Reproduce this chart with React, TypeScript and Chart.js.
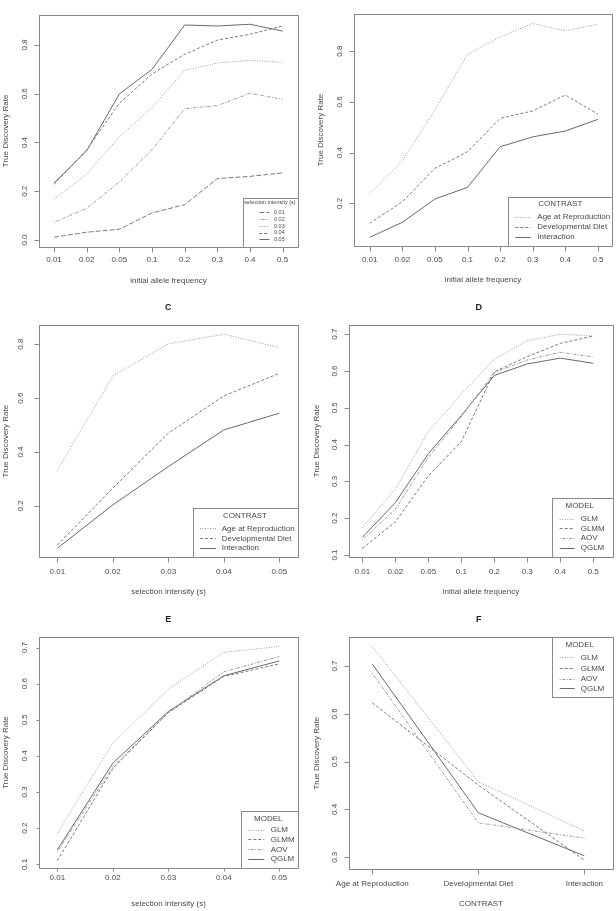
import React, { useEffect, useRef } from "react";
import { Chart, registerables } from "chart.js";

Chart.register(...registerables);

// ---------- data ----------
const FREQ_CATS = ["0.01", "0.02", "0.05", "0.1", "0.2", "0.3", "0.4", "0.5"];
const SEL_CATS = ["0.01", "0.02", "0.03", "0.04", "0.05"];
const CONTRAST_CATS = ["Age at Reproduction", "Developmental Diet", "Interaction"];

const SEL_NAMES = ["0.01", "0.02", "0.03", "0.04", "0.05"];
const CONTRAST_NAMES = ["Age at Reproduction", "Developmental Diet", "Interaction"];
const MODEL_NAMES = ["GLM", "GLMM", "AOV", "QGLM"];

// Panel A: TDR by initial allele frequency, per selection intensity
const A_S001 = [0.011, 0.032, 0.044, 0.111, 0.145, 0.252, 0.261, 0.275];
const A_S002 = [0.073, 0.13, 0.238, 0.37, 0.539, 0.551, 0.602, 0.577];
const A_S003 = [0.168, 0.27, 0.424, 0.544, 0.696, 0.726, 0.737, 0.729];
const A_S004 = [0.228, 0.37, 0.561, 0.681, 0.762, 0.82, 0.844, 0.878];
const A_S005 = [0.233, 0.366, 0.599, 0.7, 0.882, 0.878, 0.885, 0.857];

// Panel B: by initial allele frequency, per contrast
const B_AGE = [0.237, 0.367, 0.568, 0.787, 0.856, 0.909, 0.88, 0.906];
const B_DIET = [0.121, 0.206, 0.338, 0.403, 0.535, 0.564, 0.627, 0.551];
const B_INT = [0.066, 0.125, 0.217, 0.263, 0.423, 0.462, 0.485, 0.531];

// Panel C: by selection intensity, per contrast
const C_AGE = [0.331, 0.682, 0.801, 0.837, 0.787];
const C_DIET = [0.055, 0.266, 0.47, 0.608, 0.692];
const C_INT = [0.043, 0.204, 0.346, 0.482, 0.544];

// Panel D: by initial allele frequency, per model
const D_GLM = [0.174, 0.279, 0.435, 0.537, 0.632, 0.682, 0.7, 0.695];
const D_GLMM = [0.118, 0.19, 0.315, 0.408, 0.598, 0.639, 0.675, 0.695];
const D_AOV = [0.141, 0.224, 0.365, 0.476, 0.596, 0.63, 0.651, 0.638];
const D_QGLM = [0.148, 0.242, 0.375, 0.479, 0.588, 0.619, 0.635, 0.621];

// Panel E: by selection intensity, per model
const E_GLM = [0.186, 0.435, 0.585, 0.687, 0.703];
const E_GLMM = [0.11, 0.365, 0.52, 0.62, 0.655];
const E_AOV = [0.135, 0.37, 0.52, 0.633, 0.675];
const E_QGLM = [0.14, 0.38, 0.523, 0.622, 0.663];

// Panel F: by contrast, per model
const F_GLM = [0.741, 0.458, 0.355];
const F_GLMM = [0.623, 0.451, 0.294];
const F_AOV = [0.685, 0.372, 0.34];
const F_QGLM = [0.704, 0.393, 0.303];

// tick values
const Y_TICKS_A = [0, 0.2, 0.4, 0.6, 0.8];
const Y_TICKS_BC = [0.2, 0.4, 0.6, 0.8];
const Y_TICKS_DE = [0.1, 0.2, 0.3, 0.4, 0.5, 0.6, 0.7];
const Y_TICKS_F = [0.3, 0.4, 0.5, 0.6, 0.7];

// ---------- styles ----------
const BOX = "#8a8a8a";
const TEXT = "#4a4a4a";
const FONT = '"Liberation Sans", Arial, sans-serif';

const SOLID = { dash: [] as number[], color: "#6a6a6a" };
const DASHED = { dash: [3, 2], color: "#7a7a7a" };
const DOTTED = { dash: [1, 1.5], color: "#9a9a9a" };
const DOTDASH = { dash: [1, 1.5, 3, 1.5], color: "#999999" };
const LONGDASH = { dash: [5, 2], color: "#7a7a7a" };

type Legend = {
  box: number[];
  title: string;
  titleX: number;
  titleY: number;
  ys: number[];
  lx: number[];
  tx: number;
  font: number;
  titleFont: number;
};

type Panel = {
  x: number;
  y: number;
  w: number;
  h: number;
  box: number[];
  xr: number[];
  yr: number[];
  cats: string[];
  yTicks: number[];
  yDec: number;
  names: string[];
  series: number[][];
  styles: { dash: number[]; color: string }[];
  xTitle: string;
  title?: string;
  titleX?: number;
  titleY?: number;
  yLabelX: number;
  yTitleX: number;
  xLabelY: number;
  xTitleY: number;
  tickLen: number;
  legend: Legend;
};

const PANELS: Panel[] = [
  {
    x: 0, y: 0, w: 308, h: 300,
    box: [39.3, 15, 297.7, 246.7],
    xr: [0.55, 8.46], yr: [-0.0275, 0.923],
    cats: FREQ_CATS, yTicks: Y_TICKS_A, yDec: 1,
    names: SEL_NAMES,
    series: [A_S001, A_S002, A_S003, A_S004, A_S005],
    styles: [LONGDASH, DOTDASH, DOTTED, DASHED, SOLID],
    xTitle: "initial allele frequency",
    yLabelX: 25, yTitleX: 6, xLabelY: 260, xTitleY: 281, tickLen: 5,
    legend: {
      box: [243.3, 198.3, 297.7, 246.7], title: "selection intensity (s)",
      titleX: 270, titleY: 202.7, ys: [212.3, 219.3, 226, 232.7, 239.3],
      lx: [259.3, 269.3], tx: 274, font: 5.5, titleFont: 5.5,
    },
  },
  {
    x: 308, y: 0, w: 308, h: 300,
    box: [45.7, 14.3, 304.3, 245.7],
    xr: [0.51, 8.44], yr: [0.033, 0.945],
    cats: FREQ_CATS, yTicks: Y_TICKS_BC, yDec: 1,
    names: CONTRAST_NAMES,
    series: [B_AGE, B_DIET, B_INT],
    styles: [DOTTED, DASHED, SOLID],
    xTitle: "initial allele frequency",
    yLabelX: 31.7, yTitleX: 12.7, xLabelY: 260, xTitleY: 279.3, tickLen: 5,
    legend: {
      box: [200, 196.7, 304.3, 245.7], title: "CONTRAST",
      titleX: 252.3, titleY: 203.3, ys: [216.7, 226.7, 236.7],
      lx: [207.3, 222.7], tx: 229.3, font: 8, titleFont: 8,
    },
  },
  {
    x: 0, y: 300, w: 308, h: 300,
    box: [39.3, 25, 297.7, 257.3],
    xr: [0.676, 5.33], yr: [0.0097, 0.871],
    cats: SEL_CATS, yTicks: Y_TICKS_BC, yDec: 1,
    names: CONTRAST_NAMES,
    series: [C_AGE, C_DIET, C_INT],
    styles: [DOTTED, DASHED, SOLID],
    xTitle: "selection intensity (s)",
    title: "C", titleX: 168.3, titleY: 7.3,
    yLabelX: 21, yTitleX: 6, xLabelY: 271.7, xTitleY: 291.7, tickLen: 5,
    legend: {
      box: [193.3, 208.3, 297.7, 257.3], title: "CONTRAST",
      titleX: 245, titleY: 215.7, ys: [228.3, 238.3, 247.7],
      lx: [200, 216], tx: 221.7, font: 8, titleFont: 8,
    },
  },
  {
    x: 308, y: 300, w: 308, h: 300,
    box: [41, 25, 305, 256.7],
    xr: [0.596, 8.6], yr: [0.0954, 0.725],
    cats: FREQ_CATS, yTicks: Y_TICKS_DE, yDec: 1,
    names: MODEL_NAMES,
    series: [D_GLM, D_GLMM, D_AOV, D_QGLM],
    styles: [DOTTED, DASHED, DOTDASH, SOLID],
    xTitle: "initial allele frequency",
    title: "D", titleX: 170.7, titleY: 7.3,
    yLabelX: 26.7, yTitleX: 8.3, xLabelY: 271.7, xTitleY: 291.7, tickLen: 5,
    legend: {
      box: [244, 198.3, 305, 256.7], title: "MODEL",
      titleX: 271.7, titleY: 205.7, ys: [218.7, 228.3, 237.7, 247.7],
      lx: [251.7, 266.7], tx: 272.7, font: 8, titleFont: 8,
    },
  },
  {
    x: 0, y: 600, w: 308, h: 311,
    box: [39.3, 36.7, 297.7, 268.3],
    xr: [0.676, 5.33], yr: [0.089, 0.73],
    cats: SEL_CATS, yTicks: Y_TICKS_DE, yDec: 1,
    names: MODEL_NAMES,
    series: [E_GLM, E_GLMM, E_AOV, E_QGLM],
    styles: [DOTTED, DASHED, DOTDASH, SOLID],
    xTitle: "selection intensity (s)",
    title: "E", titleX: 168.3, titleY: 19.3,
    yLabelX: 25, yTitleX: 6, xLabelY: 277.5, xTitleY: 303.3, tickLen: 3,
    legend: {
      box: [241, 210.7, 297.7, 268.3], title: "MODEL",
      titleX: 268.3, titleY: 218.3, ys: [230, 239.3, 249.3, 259],
      lx: [248.3, 264.3], tx: 270.7, font: 8, titleFont: 8,
    },
  },
  {
    x: 308, y: 600, w: 308, h: 311,
    box: [41, 37.3, 305, 269],
    xr: [0.78, 3.27], yr: [0.2755, 0.76],
    cats: CONTRAST_CATS, yTicks: Y_TICKS_F, yDec: 1,
    names: MODEL_NAMES,
    series: [F_GLM, F_GLMM, F_AOV, F_QGLM],
    styles: [DOTTED, DASHED, DOTDASH, SOLID],
    xTitle: "CONTRAST",
    title: "F", titleX: 170.7, titleY: 19.3,
    yLabelX: 26.7, yTitleX: 8.3, xLabelY: 284, xTitleY: 303.3, tickLen: 5,
    legend: {
      box: [244, 37.3, 305, 96.7], title: "MODEL",
      titleX: 271.7, titleY: 45, ys: [57.3, 68.3, 79, 88.3],
      lx: [251.7, 266.7], tx: 272.7, font: 8, titleFont: 8,
    },
  },
];

const px = (v: number) => Math.round(v) + 0.5;

function makePlugin(p: Panel) {
  return {
    id: "rstyle",
    afterDraw(chart: any) {
      const ctx = chart.ctx as CanvasRenderingContext2D;
      const { left, right, top, bottom } = chart.chartArea;
      const xs = chart.scales.x;
      const ys = chart.scales.y;
      ctx.save();
      ctx.strokeStyle = BOX;
      ctx.lineWidth = 1;
      ctx.setLineDash([]);
      // plot box
      ctx.strokeRect(px(left), px(top), Math.round(right) - Math.round(left), Math.round(bottom) - Math.round(top));

      ctx.fillStyle = TEXT;
      ctx.font = `8px ${FONT}`;
      ctx.textBaseline = "middle";
      ctx.textAlign = "center";

      // y ticks
      p.yTicks.forEach((v) => {
        const y = ys.getPixelForValue(v);
        ctx.beginPath();
        ctx.moveTo(px(left), px(y));
        ctx.lineTo(px(left) - p.tickLen, px(y));
        ctx.stroke();
        ctx.save();
        ctx.translate(p.yLabelX, y);
        ctx.rotate(-Math.PI / 2);
        ctx.fillText(v.toFixed(p.yDec), 0, 0);
        ctx.restore();
      });
      // x ticks
      p.cats.forEach((c, i) => {
        const x = xs.getPixelForValue(i + 1);
        ctx.beginPath();
        ctx.moveTo(px(x), px(bottom));
        ctx.lineTo(px(x), px(bottom) + p.tickLen);
        ctx.stroke();
        ctx.fillText(c, x, p.xLabelY);
      });
      // axis titles
      ctx.fillText(p.xTitle, (left + right) / 2, p.xTitleY);
      ctx.save();
      ctx.translate(p.yTitleX, (top + bottom) / 2);
      ctx.rotate(-Math.PI / 2);
      ctx.fillText("True Discovery Rate", 0, 0);
      ctx.restore();

      // panel title
      if (p.title) {
        ctx.fillStyle = "#222";
        ctx.font = `bold 9px ${FONT}`;
        ctx.fillText(p.title, p.titleX!, p.titleY!);
        ctx.fillStyle = TEXT;
      }

      // legend
      const L = p.legend;
      ctx.fillStyle = "#fff";
      const lx0 = Math.round(L.box[0]), ly0 = Math.round(L.box[1]);
      const lx1 = Math.round(L.box[2]), ly1 = Math.round(L.box[3]);
      ctx.fillRect(lx0, ly0, lx1 - lx0, ly1 - ly0);
      ctx.strokeStyle = BOX;
      ctx.strokeRect(lx0 + 0.5, ly0 + 0.5, lx1 - lx0, ly1 - ly0);
      ctx.fillStyle = TEXT;
      ctx.font = `${L.titleFont}px ${FONT}`;
      ctx.textAlign = "center";
      ctx.fillText(L.title, L.titleX, L.titleY);
      ctx.font = `${L.font}px ${FONT}`;
      ctx.textAlign = "left";
      chart.data.datasets.forEach((ds: any, i: number) => {
        const y = L.ys[i];
        ctx.strokeStyle = ds.borderColor;
        ctx.setLineDash(ds.borderDash || []);
        ctx.beginPath();
        ctx.moveTo(L.lx[0], px(y));
        ctx.lineTo(L.lx[1], px(y));
        ctx.stroke();
        ctx.fillText(ds.label, L.tx, y);
      });
      ctx.restore();
    },
  };
}

function PanelChart({ p }: { p: Panel }) {
  const ref = useRef<HTMLCanvasElement | null>(null);
  useEffect(() => {
    const datasets = p.series.map((vals, si) => ({
      label: p.names[si],
      data: vals.map((v, i) => ({ x: i + 1, y: v })),
      borderColor: p.styles[si].color,
      borderDash: p.styles[si].dash,
      borderWidth: 1,
      pointRadius: 0,
      tension: 0,
      fill: false,
    }));
    const chart = new Chart(ref.current as HTMLCanvasElement, {
      type: "line",
      data: { datasets },
      options: {
        animation: false,
        responsive: false,
        devicePixelRatio: 1,
        layout: {
          padding: {
            left: p.box[0],
            top: p.box[1],
            right: p.w - p.box[2],
            bottom: p.h - p.box[3],
          },
        },
        scales: {
          x: { type: "linear", min: p.xr[0], max: p.xr[1], display: false },
          y: { type: "linear", min: p.yr[0], max: p.yr[1], display: false },
        },
        plugins: { legend: { display: false }, tooltip: { enabled: false } },
      },
      plugins: [makePlugin(p)],
    } as any);
    return () => chart.destroy();
  }, [p]);
  return (
    <canvas
      ref={ref}
      width={p.w}
      height={p.h}
      style={{ position: "absolute", left: p.x, top: p.y, width: p.w, height: p.h }}
    />
  );
}

export default function App() {
  return (
    <div style={{ position: "absolute", left: 0, top: 0, width: 616, height: 911, background: "#fff" }}>
      {PANELS.map((p, i) => (
        <PanelChart key={i} p={p} />
      ))}
    </div>
  );
}
